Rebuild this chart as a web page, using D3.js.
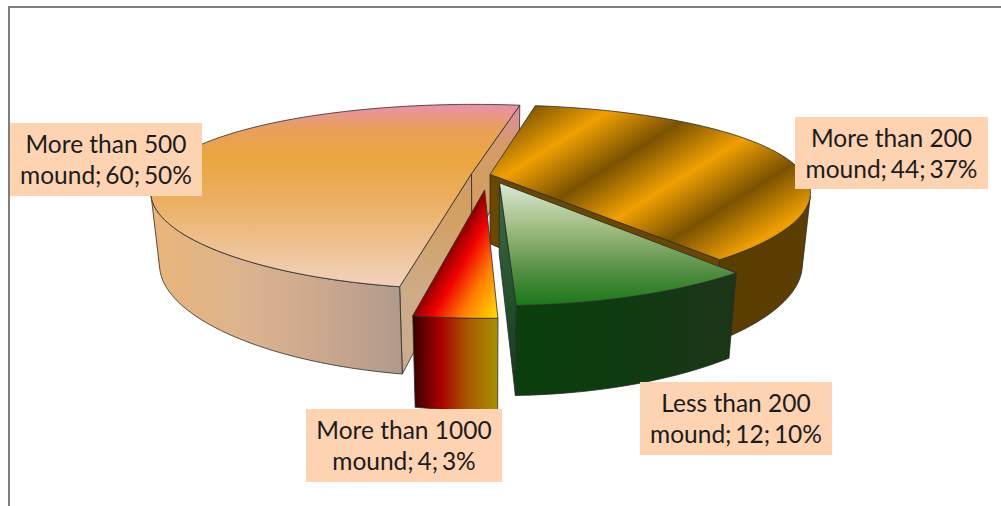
<!DOCTYPE html>
<html>
<head>
<meta charset="utf-8">
<script src="https://cdn.jsdelivr.net/npm/d3@7"></script>
<style>
html,body{margin:0;padding:0;background:#fff;overflow:hidden}
svg{display:block}
text{font-family:Lato,"Open Sans",sans-serif;fill:#1c1c1c}
</style>
</head>
<body>
<svg id="c" width="1001" height="506"></svg>
<script>
const categories = ["More than 200 mound", "Less than 200 mound", "More than 1000 mound", "More than 500 mound"];
const values = [44, 12, 4, 60];
const percents = [37, 10, 3, 50];
const explosions = [0.005, 0.1, 0.17, 0.055];

const svg = d3.select("#c");
const defs = svg.append("defs");

const cam = {cx:488.5, cy:174.5, R:314, Q:87, p:0.25, px:0.2, q:0.025, H:71};
function project(X, Y, d){
  const w = 1 + cam.p*Y + cam.q*d;
  const wx = 1 + cam.px*Y + cam.q*d;
  return [cam.cx + cam.R*X/wx, cam.cy + (-cam.Q*Y + cam.H*d)/w];
}

function grad(id, x1, y1, x2, y2, stops, spread){
  const g = defs.append("linearGradient").attr("id", id)
    .attr("gradientUnits","userSpaceOnUse")
    .attr("x1",x1).attr("y1",y1).attr("x2",x2).attr("y2",y2);
  if (spread) g.attr("spreadMethod", spread);
  stops.forEach(s => g.append("stop").attr("offset",s[0]).attr("stop-color",s[1]));
  return `url(#${id})`;
}

const styles = [
  { top: grad("t0",532,103,582.5,183.5,[[0,"#7a5200"],[.5,"#f0a000"],[1,"#7a5200"]],"repeat"),
    wall: grad("w0",720,0,810,0,[[0,"#5a3d00"],[1,"#5c3f00"]]),
    side: "#6b4800" },
  { top: grad("t1",0,186,0,303,[[0,"#d5e6cf"],[.35,"#a2bd82"],[.75,"#4f8c3f"],[1,"#1f7a1c"]]),
    wall: grad("w1",513,0,738,0,[[0,"#0b3f0d"],[.5,"#0f3b10"],[1,"#1d3519"]]),
    side: grad("s1",0,186,0,393,[[0,"#3e6a4a"],[1,"#0f3a14"]]) },
  { top: grad("t2",412,314,476,351,[[0,"#8b0000"],[.25,"#f00000"],[.6,"#ff8000"],[1,"#ffd800"]]),
    wall: grad("w2",412,0,498,0,[[0,"#330000"],[.33,"#a80000"],[.66,"#a85c00"],[1,"#a89200"]]),
    side: "#800000" },
  { top: grad("t3",0,103,0,288,[[0,"#ea8fb0"],[.14,"#e9a05a"],[.3,"#eaa640"],[.55,"#ecb066"],[1,"#f2d3c0"]]),
    wall: grad("w3",155,0,403,0,[[0,"#e9b57a"],[.35,"#dcb48e"],[.7,"#caa78e"],[1,"#b09a8c"]]),
    side: grad("s3",0,103,0,376,[[0,"#da8cae"],[.15,"#d49a68"],[.4,"#d2a060"],[.7,"#ceac88"],[1,"#c9ab90"]]) }
];

const startDeg = 10;
const pie = d3.pie().sort(null).value(d => d)
  .startAngle(startDeg*Math.PI/180).endAngle((360+startDeg)*Math.PI/180);
const arcs = pie(values);

const line = d3.line();
const outline = {stroke:"#2a2a2a","stroke-width":0.8,"stroke-linejoin":"round"};
function poly(g, pts, fill){
  g.append("path").attr("d", line(pts)+"Z").attr("fill",fill)
    .attr("stroke",outline.stroke).attr("stroke-width",outline["stroke-width"])
    .attr("stroke-linejoin",outline["stroke-linejoin"]);
}

// painter's order: back slices first
const order = [3,0,2,1];
order.forEach(i => {
  const a = arcs[i], e = explosions[i], mid = (a.startAngle+a.endAngle)/2;
  const ex = e*Math.sin(mid), ey = e*Math.cos(mid);
  const P = (t, r, d) => project(ex + r*Math.sin(t), ey + r*Math.cos(t), d);
  const n = Math.max(8, Math.round((a.endAngle-a.startAngle)*60));
  const ts = d3.range(n+1).map(k => a.startAngle + (a.endAngle-a.startAngle)*k/n);
  const g = svg.append("g");

  const A = P(0,0,0), Ab = P(0,0,1), M = P(mid,1,0);
  [a.startAngle, a.endAngle].forEach(t => {
    const E = P(t,1,0), Eb = P(t,1,1);
    const vx = E[0]-A[0], vy = E[1]-A[1];
    const c1 = vx*(Ab[1]-A[1]) - vy*(Ab[0]-A[0]);
    const c2 = vx*(M[1]-A[1]) - vy*(M[0]-A[0]);
    if (c1*c2 < 0) poly(g, [A,E,Eb,Ab], styles[i].side);
  });

  const topArc = ts.map(t => P(t,1,0));
  const botArc = ts.map(t => P(t,1,1));
  // outer wall: only the contiguous runs of strips that face the viewer
  let run = null;
  const flush = () => {
    if (run) poly(g, run.map(k=>topArc[k]).concat(run.slice().reverse().map(k=>botArc[k])), styles[i].wall);
    run = null;
  };
  d3.range(n).forEach(k => {
    const dx = topArc[k+1][0]-topArc[k][0], dy = topArc[k+1][1]-topArc[k][1];
    const hx = botArc[k][0]-topArc[k][0], hy = botArc[k][1]-topArc[k][1];
    const facing = dx*hy - dy*hx < 0;
    if (facing) { if (!run) run = [k]; run.push(k+1); } else flush();
  });
  flush();

  poly(g, [A].concat(topArc), styles[i].top);
});

// labels
const labelBoxes = [[795,117,193,72],[640,382,192,73],[306,409,196,73],[10,123,192,73]];
const lab = svg.append("g");
categories.forEach((c,i) => {
  const b = labelBoxes[i];
  const parts = c.split(" ");
  const l1 = parts.slice(0,3).join(" ");
  const l2 = `${parts[3]}; ${values[i]}; ${percents[i]}%`;
  lab.append("rect").attr("x",b[0]).attr("y",b[1]).attr("width",b[2]).attr("height",b[3]).attr("fill","#fdd3b2");
  [l1,l2].forEach((t,k) => lab.append("text")
    .attr("x",b[0]+b[2]/2).attr("y",b[1]+30+k*31)
    .attr("text-anchor","middle").attr("font-size",24.5)
    .attr("word-spacing", k ? -2.5 : 0).text(t));
});

// frame
svg.append("path").attr("d","M9,506V7H1001").attr("fill","none").attr("stroke","#7f7f7f").attr("stroke-width",2);
</script>
</body>
</html>
